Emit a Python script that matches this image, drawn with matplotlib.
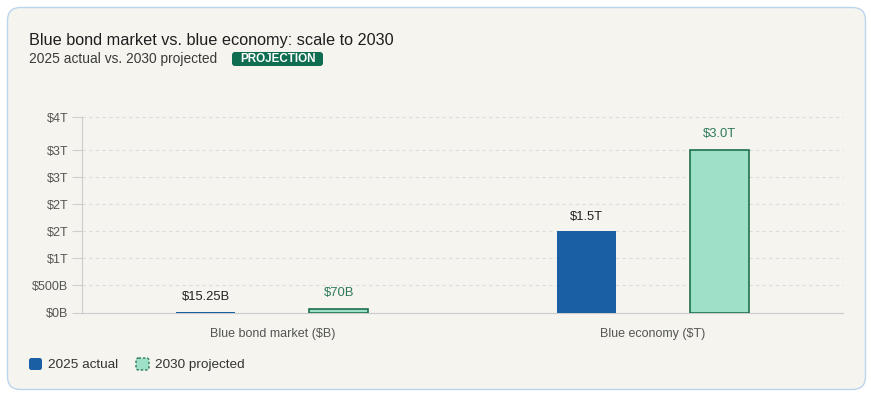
import matplotlib.pyplot as plt
from matplotlib.patches import FancyBboxPatch

plt.rcParams['font.family'] = ['Liberation Sans', 'DejaVu Sans']

# data
categories = ["Blue bond market ($B)", "Blue economy ($T)"]
actual_2025 = [15.25, 1500]      # in $B
projected_2030 = [70, 3000]      # in $B
actual_labels = ["$15.25B", "$1.5T"]
projected_labels = ["$70B", "$3.0T"]
ytick_vals = [0, 0.5, 1.0, 1.5, 2.0, 2.5, 3.0, 3.6]   # in $T
ytick_labels = ["$0B", "$500B", "$1T", "$2T", "$2T", "$3T", "$3T", "$4T"]

BLUE = "#1a5ea3"
GREEN_FILL = "#9fe1c8"
GREEN_EDGE = "#1f6f4e"
GREEN_TXT = "#2d7a5a"
CARD = "#f5f4ef"

W, H = 871, 395
fig = plt.figure(figsize=(W / 100, H / 100), dpi=100)
fig.patch.set_facecolor("white")

# overlay in pixel coordinates for card, titles and legend
bg = fig.add_axes([0, 0, 1, 1], zorder=0)
bg.set_xlim(0, W)
bg.set_ylim(H, 0)
bg.axis("off")
bg.add_patch(FancyBboxPatch((7.5, 7.5), 858, 382, boxstyle="round,pad=0,rounding_size=13",
                            facecolor=CARD, edgecolor="#bcd5ee", linewidth=1))
bg.text(29, 45, "Blue bond market vs. blue economy: scale to 2030",
        fontsize=11.7, color="#1e1e1e", va="baseline")
bg.text(29, 63.5, "2025 actual vs. 2030 projected", fontsize=9.9, color="#3a3a3a", va="baseline")
bg.add_patch(FancyBboxPatch((232, 52), 91, 14, boxstyle="round,pad=0,rounding_size=3",
                            facecolor="#0f6e50", edgecolor="none"))
bg.text(277.5, 59.5, "PROJECTION", fontsize=8.4, color="white", fontweight="bold",
        ha="center", va="center")

# legend
bg.add_patch(FancyBboxPatch((29, 358), 13, 12, boxstyle="round,pad=0,rounding_size=2.5",
                            facecolor=BLUE, edgecolor="none"))
bg.text(48, 368, "2025 actual", fontsize=9.7, color="#333333", va="baseline")
bg.add_patch(FancyBboxPatch((136, 358), 13, 12, boxstyle="round,pad=0,rounding_size=2.5",
                            facecolor=GREEN_FILL, edgecolor=GREEN_EDGE, linewidth=0.9,
                            linestyle=(0, (2, 1.5))))
bg.text(155, 368, "2030 projected", fontsize=9.7, color="#333333", va="baseline")

# main chart
ax = fig.add_axes([82 / W, (H - 312.5) / H, (843 - 82) / W, (312.5 - 117.5) / H], zorder=1)
ax.set_facecolor("none")

x = list(range(len(categories)))
off, bw = 0.175, 0.155
act_t = [v / 1000 for v in actual_2025]
proj_t = [v / 1000 for v in projected_2030]

ax.bar([i - off for i in x], act_t, bw, color=BLUE, zorder=3)
ax.bar([i + off for i in x], proj_t, bw, color=GREEN_FILL, edgecolor=GREEN_EDGE,
       linewidth=1.2, zorder=3)

for i in x:
    ax.annotate(actual_labels[i], (i - off, act_t[i]), xytext=(0, 6), textcoords="offset points",
                ha="center", va="bottom", fontsize=9.4, color="#222222")
    ax.annotate(projected_labels[i], (i + off, proj_t[i]), xytext=(0, 7), textcoords="offset points",
                ha="center", va="bottom", fontsize=9.4, color=GREEN_TXT)

ax.set_xlim(-0.5, 1.5)
ax.set_ylim(0, 3.6)
ax.set_xticks(x)
ax.set_xticklabels(categories, fontsize=9, color="#555555")
ax.tick_params(axis="x", length=0, pad=11)
ax.set_yticks(ytick_vals)
ax.set_yticklabels(ytick_labels, fontsize=9, color="#555555")
ax.tick_params(axis="y", length=7, color="#d0d0d0", width=0.8, pad=3)

ax.grid(axis="y", color="#dcdcdc", linestyle=(0, (3, 3)), linewidth=0.8, zorder=0)
for line in ax.get_ygridlines():
    line.set_clip_on(False)
for s in ["top", "right"]:
    ax.spines[s].set_visible(False)
ax.spines["left"].set_color("#cccccc")
ax.spines["left"].set_linewidth(0.8)
ax.spines["bottom"].set_color("#cccccc")
ax.spines["bottom"].set_linewidth(0.8)

fig.savefig("out.png", dpi=100, facecolor="white")
